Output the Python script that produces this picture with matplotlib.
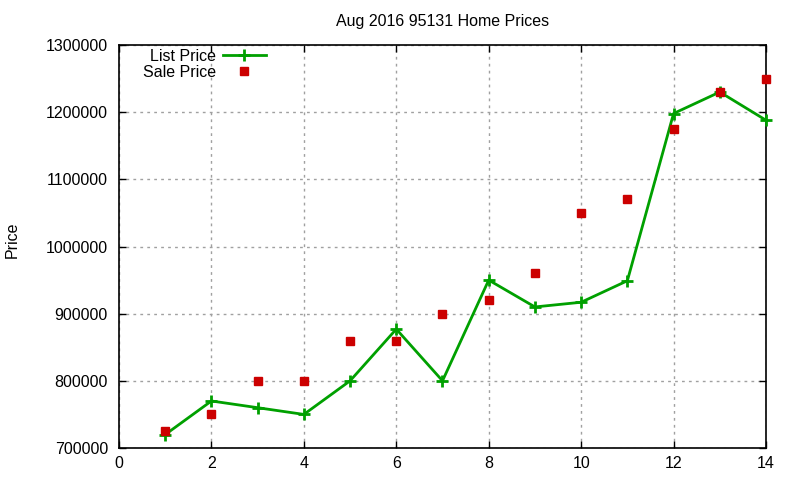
import numpy as np
import matplotlib.pyplot as plt

plt.rcParams['font.family'] = ['Liberation Sans', 'DejaVu Sans']

months = np.arange(1, 15)
list_price = [720000, 770000, 760000, 750000, 800000, 877000, 800000,
              950000, 910000, 917000, 949000, 1198000, 1230000, 1188000]
sale_price = [725000, 750000, 800000, 800000, 860000, 860000, 900000,
              920000, 960000, 1050000, 1070000, 1175000, 1230000, 1250000]

fig = plt.figure(figsize=(8, 4.8), dpi=100)
ax = fig.add_axes([119 / 800, 1 - 448 / 480, (766 - 119) / 800, (448 - 45) / 480])

ax.plot(months, list_price, '-', color='#00a000', linewidth=2,
        marker='+', markersize=9, markeredgewidth=2, label='List Price',
        clip_on=False, zorder=3)
ax.plot(months, sale_price, 's', color='#cc0000', markersize=6,
        linestyle='none', label='Sale Price', clip_on=False, zorder=4)

ax.set_xlim(0, 14)
ax.set_ylim(700000, 1300000)
ax.set_xticks(range(0, 15, 2))
ax.set_yticks(range(700000, 1300001, 100000))
ax.ticklabel_format(style='plain', axis='y', useOffset=False)
ax.tick_params(direction='in', top=True, right=True, labelsize=11.5, length=5, width=1)
ax.tick_params(axis='y', pad=8)
ax.tick_params(axis='x', pad=6)
ax.grid(True, color='#a0a0a0', linestyle=(0, (2, 3)), linewidth=1)
for s in ax.spines.values():
    s.set_linewidth(1.2)

ax.set_title('Aug 2016 95131 Home Prices', fontsize=11.5, pad=14)
ax.set_ylabel('Price', fontsize=11.5)
ax.yaxis.set_label_coords(20 / 800, 0.5, transform=fig.transFigure)

leg = ax.legend(loc='upper right', markerfirst=False, frameon=False, fontsize=11.5,
                handlelength=2.7, handletextpad=0.45, borderpad=0, labelspacing=0.05,
                bbox_to_anchor=(274 / 800, 1 - 41 / 480), bbox_transform=fig.transFigure)

fig.savefig('out.png', dpi=100)
